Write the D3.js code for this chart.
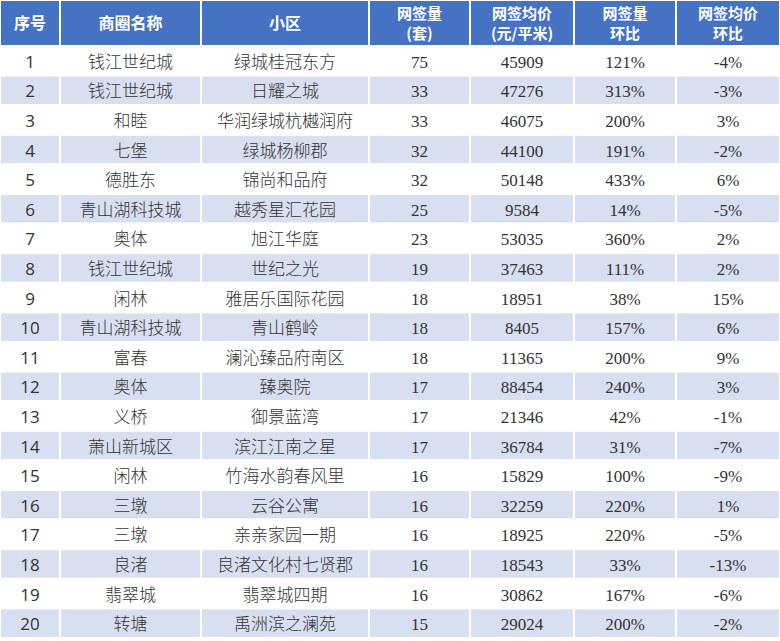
<!DOCTYPE html>
<html>
<head>
<meta charset="utf-8">
<script src="https://cdn.jsdelivr.net/npm/d3@7"></script>
<style>
  html, body { margin: 0; padding: 0; background: #fff; }
  svg { display: block; }
  .cjk { font-family: "Noto Sans CJK SC", sans-serif; }
  .num { font-family: "Liberation Serif", "Times New Roman", serif; }
  .seq { font-family: "Open Sans", "Liberation Sans", sans-serif; }
</style>
</head>
<body>
<div id="chart"></div>
<script>
var width = 780, height = 641;

// table data
var headers = [["序号"], ["商圈名称"], ["小区"], ["网签量", "(套)"], ["网签均价", "(元/平米)"], ["网签量", "环比"], ["网签均价", "环比"]];
var seq = d3.range(1, 21);
var districts = ["钱江世纪城", "钱江世纪城", "和睦", "七堡", "德胜东", "青山湖科技城", "奥体", "钱江世纪城", "闲林", "青山湖科技城",
    "富春", "奥体", "义桥", "萧山新城区", "闲林", "三墩", "三墩", "良渚", "翡翠城", "转塘"];
var communities = ["绿城桂冠东方", "日耀之城", "华润绿城杭樾润府", "绿城杨柳郡", "锦尚和品府", "越秀星汇花园", "旭江华庭", "世纪之光", "雅居乐国际花园", "青山鹤岭",
    "澜沁臻品府南区", "臻奥院", "御景蓝湾", "滨江江南之星", "竹海水韵春风里", "云谷公寓", "亲亲家园一期", "良渚文化村七贤郡", "翡翠城四期", "禹洲滨之澜苑"];
var counts = [75, 33, 33, 32, 32, 25, 23, 19, 18, 18, 18, 17, 17, 17, 16, 16, 16, 16, 16, 15];
var prices = [45909, 47276, 46075, 44100, 50148, 9584, 53035, 37463, 18951, 8405, 11365, 88454, 21346, 36784, 15829, 32259, 18925, 18543, 30862, 29024];
var countMoM = ["121%", "313%", "200%", "191%", "433%", "14%", "360%", "111%", "38%", "157%", "200%", "240%", "42%", "31%", "100%", "220%", "220%", "33%", "167%", "200%"];
var priceMoM = ["-4%", "-3%", "3%", "-2%", "6%", "-5%", "2%", "2%", "15%", "6%", "9%", "3%", "-1%", "-7%", "-9%", "1%", "-5%", "-13%", "-6%", "-2%"];

var colWidths = [60, 141, 168, 101, 104, 102, 104];
var colEdges = [0].concat(Array.from(d3.cumsum(colWidths)));
var colClass = ['seq', 'cjk', 'cjk', 'num', 'num', 'num', 'num'];
var headerH = 46, tableBottom = 638;

var headBlue = "#4672c4", band = "#d8dff0", textColor = "#333";

var rowScale = d3.scaleBand()
    .domain(d3.range(seq.length))
    .range([headerH, tableBottom])
    .padding(0);

var svg = d3.select('#chart').append('svg')
    .attr('width', width)
    .attr('height', height);

// header cells
var head = svg.append('g').attr('class', 'header');
head.selectAll('rect')
    .data(headers)
    .enter()
    .append('rect')
    .attr('x', function(d, i){ return colEdges[i]; })
    .attr('y', 0)
    .attr('width', function(d, i){ return colWidths[i]; })
    .attr('height', headerH)
    .attr('fill', headBlue)
    .attr('stroke', '#fff')
    .attr('stroke-width', 2);

head.selectAll('text')
    .data(headers)
    .enter()
    .append('text')
    .attr('class', 'cjk')
    .attr('x', function(d, i){ return colEdges[i] + colWidths[i] / 2; })
    .attr('text-anchor', 'middle')
    .attr('fill', '#fff')
    .attr('font-weight', 'bold')
    .attr('font-size', function(d){ return d.length == 1 ? 16 : 15; })
    .each(function(d){
        var t = d3.select(this);
        var y0 = d.length == 1 ? 23 : 13.5;
        d.forEach(function(line, k){
            t.append('tspan')
                .attr('x', t.attr('x'))
                .attr('y', y0 + k * 20)
                .attr('dy', '0.35em')
                .text(line);
        });
    });

// body rows
var rows = seq.map(function(s, i){
    return [String(s), districts[i], communities[i], String(counts[i]), String(prices[i]), countMoM[i], priceMoM[i]];
});

var rowG = svg.append('g').attr('class', 'body')
    .selectAll('g')
    .data(rows)
    .enter()
    .append('g')
    .attr('transform', function(d, i){ return "translate(0," + rowScale(i) + ")"; });

rowG.selectAll('rect')
    .data(function(d, i){ return d.map(function(v){ return {v: v, row: i}; }); })
    .enter()
    .append('rect')
    .attr('x', function(d, j){ return colEdges[j]; })
    .attr('y', 0)
    .attr('width', function(d, j){ return colWidths[j]; })
    .attr('height', rowScale.bandwidth())
    .attr('fill', function(d){ return d.row % 2 == 1 ? band : '#fff'; })
    .attr('stroke', '#fff')
    .attr('stroke-width', 2);

rowG.selectAll('text')
    .data(function(d){ return d; })
    .enter()
    .append('text')
    .attr('class', function(d, j){ return colClass[j]; })
    .attr('x', function(d, j){ return colEdges[j] + colWidths[j] / 2; })
    .attr('y', rowScale.bandwidth() / 2 + 1)
    .attr('dy', '0.35em')
    .attr('text-anchor', 'middle')
    .attr('fill', textColor)
    .attr('font-size', 17)
    .attr('font-weight', function(d, j){ return j == 1 || j == 2 ? 300 : 'normal'; })
    .text(function(d){ return d; });
</script>
</body>
</html>
